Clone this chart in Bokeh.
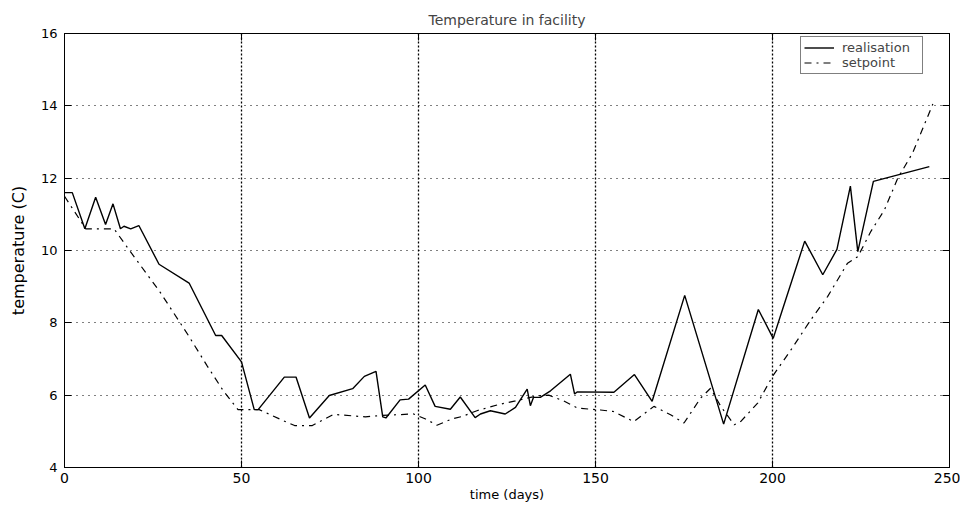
from bokeh.plotting import figure
from bokeh.models import LinearAxis, FixedTicker, Legend, LegendItem, Range1d
from bokeh.embed import file_html
from bokeh.resources import INLINE

# ---- data ----
real_days = [0, 2.2, 5.75, 8.8, 11.6, 13.7, 15.8, 16.8, 18.7, 21.0, 26.7, 35.2, 42.7, 44.4,
             50.0, 53.6, 54.7, 62.1, 65.4, 69.2, 74.8, 81.4, 84.7, 88.0, 89.9, 90.8, 94.8,
             97.2, 101.9, 104.7, 109.0, 111.8, 116.0, 117.5, 120.3, 124.5, 127.4, 130.7,
             131.6, 132.5, 134.4, 137.3, 142.9, 144.1, 144.8, 155.2, 161.0, 166.0, 175.2,
             186.2, 196.0, 200.2, 202.6, 209.1, 214.2, 218.2, 222.0, 224.1, 228.5, 244.3]
real_temp = [11.6, 11.6, 10.6, 11.47, 10.72, 11.29, 10.6, 10.67, 10.6, 10.69, 9.62, 9.1, 7.65, 7.65,
             6.92, 5.6, 5.6, 6.5, 6.5, 5.37, 5.99, 6.18, 6.52, 6.66, 5.4, 5.37, 5.87,
             5.89, 6.28, 5.69, 5.61, 5.95, 5.38, 5.48, 5.57, 5.48, 5.66, 6.17,
             5.71, 5.94, 5.94, 6.12, 6.58, 6.03, 6.09, 6.08, 6.57, 5.83, 8.76,
             5.2, 8.37, 7.57, 8.3, 10.26, 9.33, 10.03, 11.78, 9.97, 11.91, 12.32]

set_days = [0, 6, 14, 18, 27, 35, 40.3, 45, 49, 55, 61, 65, 70, 76, 85, 89.5, 98.6, 102,
            105.2, 109.4, 112.3, 116.5, 123, 127.4, 133.5, 136.8, 141, 145, 151.4, 155,
            160.8, 166.5, 171.2, 175, 179.7, 182.5, 185.4, 189.2, 191, 195.8, 200, 205.2,
            210.8, 215.6, 221.2, 224.1, 227.8, 231.6, 235.4, 239.6, 245.3]
set_temp = [11.5, 10.6, 10.6, 10.05, 8.85, 7.65, 6.81, 6.1, 5.6, 5.6, 5.33, 5.16, 5.16, 5.47, 5.4, 5.44, 5.48, 5.34,
            5.17, 5.34, 5.41, 5.57, 5.75, 5.84, 5.98, 6.0, 5.84, 5.64, 5.59, 5.55,
            5.27, 5.69, 5.46, 5.23, 5.92, 6.19, 5.69, 5.18, 5.27, 5.78, 6.52, 7.25,
            8.08, 8.73, 9.65, 9.83, 10.53, 11.12, 12.0, 12.7, 14.05]

x_ticks = [0, 50, 100, 150, 200, 250]
y_ticks = [4, 6, 8, 10, 12, 14, 16]
blank_x = {t: "" for t in x_ticks}
blank_y = {t: "" for t in y_ticks}

FONT = "DejaVu Sans"

p = figure(width=960, height=504, output_backend="svg", toolbar_location=None,
           x_range=Range1d(0, 250), y_range=Range1d(4, 16),
           title="Temperature in facility",
           min_border_left=64, min_border_right=11, min_border_top=33, min_border_bottom=35)

p.title.align = "center"
p.title.text_font = FONT
p.title.text_font_size = "14px"
p.title.text_font_style = "normal"
p.title.standoff = 12

p.outline_line_color = "black"
p.outline_line_width = 1
p.background_fill_color = "white"
p.border_fill_color = "white"

for ax in [p.xaxis[0], p.yaxis[0]]:
    ax.major_tick_in = 7
    ax.major_tick_out = 0
    ax.minor_tick_line_color = None
    ax.axis_line_color = "black"
    ax.major_tick_line_color = "black"
    ax.major_label_text_font = FONT
    ax.major_label_text_color = "black"
    ax.axis_label_text_font = FONT
    ax.axis_label_text_font_style = "normal"
    ax.axis_label_text_color = "black"

p.xaxis[0].ticker = FixedTicker(ticks=x_ticks)
p.yaxis[0].ticker = FixedTicker(ticks=y_ticks)
p.xaxis[0].axis_label = "time (days)"
p.yaxis[0].axis_label = "temperature (C)"
p.xaxis[0].major_label_text_font_size = "14px"
p.yaxis[0].major_label_text_font_size = "13px"
p.xaxis[0].axis_label_text_font_size = "13px"
p.yaxis[0].axis_label_text_font_size = "16px"
p.xaxis[0].major_label_standoff = 5
p.xaxis[0].axis_label_standoff = 1
p.yaxis[0].major_label_standoff = 7
p.yaxis[0].axis_label_standoff = 10

# mirrored tick axes (top and right) without labels
top = LinearAxis(ticker=FixedTicker(ticks=x_ticks), major_tick_in=7, major_tick_out=0,
                 minor_tick_line_color=None, major_label_overrides=blank_x,
                 major_label_text_font_size="1px", major_label_standoff=0, axis_line_color="black")
right = LinearAxis(ticker=FixedTicker(ticks=y_ticks), major_tick_in=7, major_tick_out=0,
                   minor_tick_line_color=None, major_label_overrides=blank_y,
                   major_label_text_font_size="1px", major_label_standoff=0, axis_line_color="black")
p.add_layout(top, "above")
p.add_layout(right, "right")

p.xgrid.ticker = FixedTicker(ticks=x_ticks)
p.ygrid.ticker = FixedTicker(ticks=y_ticks)
p.xgrid.grid_line_color = "black"
p.xgrid.grid_line_dash = "2 2"
p.xgrid.grid_line_width = 1.3
p.ygrid.grid_line_color = "black"
p.ygrid.grid_line_dash = "1 5"
p.ygrid.grid_line_width = 1.2

r1 = p.line(real_days, real_temp, line_color="black", line_width=1.4)
r2 = p.line(set_days, set_temp, line_color="black", line_width=1.2, line_dash="7 5 2 5")

legend = Legend(items=[LegendItem(label="realisation", renderers=[r1]),
                       LegendItem(label="setpoint", renderers=[r2])],
                location=(736, 393))
legend.label_text_font = FONT
legend.label_text_font_size = "13px"
legend.border_line_color = "black"
legend.border_line_width = 1
legend.background_fill_color = "white"
legend.background_fill_alpha = 1
legend.glyph_width = 30
legend.glyph_height = 13
legend.label_height = 13
legend.label_width = 77
legend.label_standoff = 8
legend.padding = 3
legend.spacing = 0
legend.margin = 0
p.add_layout(legend, "center")

open("out.html", "w").write(file_html(p, INLINE))
